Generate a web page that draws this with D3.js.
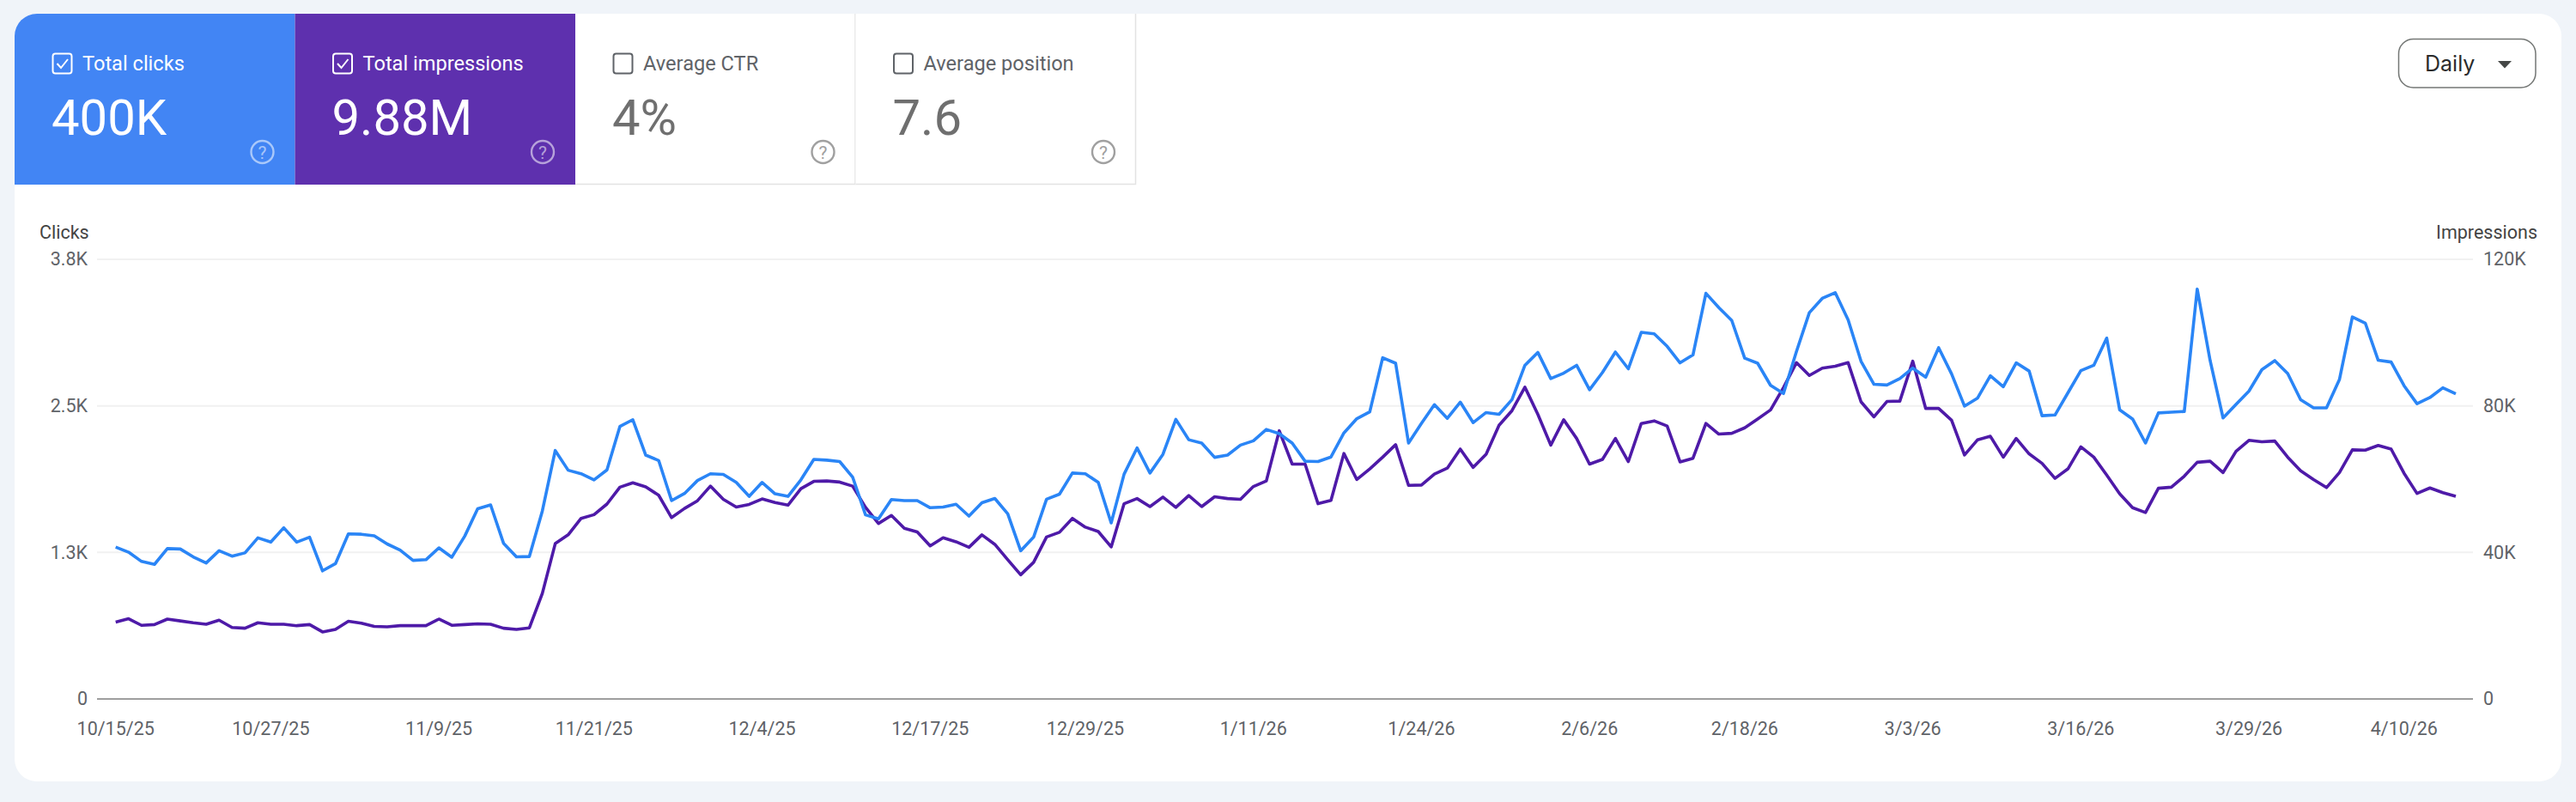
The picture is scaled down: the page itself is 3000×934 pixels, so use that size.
<!DOCTYPE html>
<html>
  <head>
    <title>Search performance</title>
    <meta charset="utf-8" />
    <style>
      html, body { margin: 0; padding: 0; background: #f0f4f9; }
      svg { display: block; font-family: Roboto, sans-serif; }
    </style>
  </head>
  <body>
    <div id="chart"></div>
    <script src="https://d3js.org/d3.v7.min.js"></script>
    <script type="text/javascript">
        // one value per day, 10/15/25 to 4/14/26
        const clicks = [
            1295, 1252, 1173, 1148, 1283, 1279, 1212, 1160, 1264, 1218, 1246, 1374, 1338, 1460, 1338, 1380,
            1093, 1154, 1408, 1405, 1392, 1322, 1270, 1182, 1188, 1289, 1209, 1389, 1622, 1655, 1328, 1212,
            1215, 1603, 2119, 1951, 1921, 1869, 1954, 2324, 2382, 2080, 2034, 1692, 1753, 1863, 1921, 1915,
            1847, 1728, 1847, 1750, 1728, 1869, 2043, 2037, 2025, 1893, 1570, 1536, 1701, 1692, 1692, 1631,
            1637, 1661, 1560, 1673, 1710, 1579, 1264, 1380, 1704, 1747, 1927, 1921, 1847, 1502, 1918, 2141,
            1927, 2086, 2385, 2211, 2183, 2061, 2080, 2165, 2202, 2299, 2263, 2183, 2028, 2025, 2064, 2269,
            2391, 2449, 2910, 2864, 2183, 2351, 2510, 2394, 2532, 2357, 2443, 2428, 2553, 2846, 2956, 2733,
            2779, 2846, 2638, 2785, 2959, 2816, 3127, 3115, 3008, 2867, 2935, 3460, 3338, 3228, 2907, 2864,
            2675, 2605, 2962, 3295, 3417, 3466, 3234, 2880, 2684, 2678, 2733, 2822, 2745, 2996, 2773, 2498,
            2565, 2757, 2663, 2867, 2797, 2416, 2422, 2611, 2800, 2846, 3078, 2467, 2388, 2183, 2440, 2446,
            2452, 3496, 2886, 2397, 2513, 2626, 2809, 2886, 2776, 2553, 2483, 2483, 2724, 3258, 3206, 2889,
            2874, 2672, 2519, 2571, 2654, 2602
        ];
        const impressions = [
            21000, 21900, 20100, 20300, 21800, 21300, 20800, 20400, 21500, 19500, 19300, 20800, 20400, 20400, 20000, 20300,
            18300, 19000, 21200, 20700, 19800, 19700, 20000, 20000, 20000, 21800, 20100, 20300, 20500, 20400, 19300, 19000,
            19400, 28800, 42400, 44800, 49300, 50300, 53200, 57800, 59000, 57900, 55600, 49500, 52000, 54100, 58100, 54500,
            52400, 53100, 54600, 53600, 52900, 57400, 59400, 59500, 59200, 58100, 52300, 47900, 50100, 46600, 45600, 41800,
            44000, 42900, 41400, 44800, 42200, 38000, 33900, 37300, 44200, 45500, 49300, 46900, 45700, 41500, 53300, 54700,
            52500, 55100, 52300, 55500, 52500, 55200, 54700, 54500, 58000, 59500, 73200, 64100, 64100, 53300, 54200, 67000,
            59900, 62800, 66000, 69400, 58300, 58400, 61400, 63000, 68200, 63200, 66800, 74700, 78700, 85100, 77700, 69300,
            76200, 71100, 64100, 65400, 71100, 64800, 75200, 75900, 74500, 64700, 65700, 75200, 72300, 72500, 74000, 76400,
            78900, 85000, 91800, 88300, 90300, 90800, 91800, 81100, 77000, 81200, 81300, 92200, 79300, 79300, 76100, 66600,
            70700, 71700, 66000, 71100, 66900, 64300, 60200, 62800, 68800, 66000, 61100, 56000, 52200, 50900, 57500, 57800,
            60800, 64600, 64900, 61800, 67600, 70600, 70200, 70400, 66000, 62300, 59900, 57700, 61800, 68000, 67900, 69200,
            68200, 61600, 56100, 57600, 56300, 55300
        ];

        const xTickLabels = ["10/15/25", "10/27/25", "11/9/25", "11/21/25", "12/4/25", "12/17/25", "12/29/25", "1/11/26",
            "1/24/26", "2/6/26", "2/18/26", "3/3/26", "3/16/26", "3/29/26", "4/10/26"];
        const clickTicks = [0, 1250, 2500, 3750];
        const clickTickLabels = ["0", "1.3K", "2.5K", "3.8K"];
        const impressionTicks = [0, 40000, 80000, 120000];
        const impressionTickLabels = ["0", "40K", "80K", "120K"];

        const tileNames = ["Total clicks", "Total impressions", "Average CTR", "Average position"];
        const tileValues = ["400K", "9.88M", "4%", "7.6"];
        const tileOn = [true, true, false, false];
        const tileFills = ["#4285f4", "#5e30ae", "#fff", "#fff"];

        const width = 3000;
        const height = 934;
        const card = {left: 17, top: 16, right: 2983, bottom: 910};
        const plot = {top: 302, bottom: 814, left: 113, right: 2880};
        const tileW = 326.5;
        const tileH = 199;

        const parseDate = d3.utcParse("%m/%d/%y");
        const days = d3.utcDay.range(parseDate("10/15/25"), parseDate("4/15/26"));

        const x = d3.scaleUtc()
            .domain([days[0], days[days.length - 1]])
            .range([134.7, 2860]);
        const yClicks = d3.scaleLinear()
            .domain([0, 3750])
            .range([plot.bottom, plot.top]);
        const yImpressions = d3.scaleLinear()
            .domain([0, 120000])
            .range([plot.bottom, plot.top]);

        const svg = d3.select("#chart")
            .append("svg")
            .attr("width", width)
            .attr("height", height);

        svg.append("clipPath")
            .attr("id", "card-clip")
            .append("rect")
            .attr("x", card.left)
            .attr("y", card.top)
            .attr("width", card.right - card.left)
            .attr("height", card.bottom - card.top)
            .attr("rx", 26);

        const body = svg.append("g").attr("clip-path", "url(#card-clip)");
        body.append("rect")
            .attr("x", card.left)
            .attr("y", card.top)
            .attr("width", card.right - card.left)
            .attr("height", card.bottom - card.top)
            .attr("fill", "#fff");

        // metric tiles
        const tile = body.selectAll("g.tile")
            .data(tileNames)
            .enter().append("g")
            .attr("class", "tile")
            .attr("transform", (d, i) => `translate(${card.left + i * tileW},${card.top})`);

        tile.append("rect")
            .attr("width", tileW)
            .attr("height", tileH)
            .attr("fill", (d, i) => tileFills[i]);

        tile.filter((d, i) => !tileOn[i]).append("path")
            .attr("d", `M${tileW - 0.5},0V${tileH - 0.5}H0`)
            .attr("fill", "none")
            .attr("stroke", "#e3e3e3")
            .attr("stroke-width", 1.5);

        tile.append("rect")
            .attr("x", 44.5)
            .attr("y", 46.5)
            .attr("width", 22)
            .attr("height", 23)
            .attr("rx", 3)
            .attr("fill", "none")
            .attr("stroke", (d, i) => tileOn[i] ? "#fff" : "#5f6368")
            .attr("stroke-width", 2);

        tile.filter((d, i) => tileOn[i]).append("path")
            .attr("d", "M49.5,58l4.5,5l8,-10")
            .attr("fill", "none")
            .attr("stroke", "#fff")
            .attr("stroke-width", 2);

        tile.append("text")
            .attr("x", 79)
            .attr("y", 65.5)
            .attr("font-size", 23.6)
            .attr("fill", (d, i) => tileOn[i] ? "#fff" : "#5f6368")
            .text(d => d);

        tile.append("text")
            .attr("x", 43)
            .attr("y", 141)
            .attr("font-size", 58)
            .attr("fill", (d, i) => tileOn[i] ? "#fff" : "#6f6f6f")
            .text((d, i) => tileValues[i]);

        tile.append("circle")
            .attr("cx", 288.5)
            .attr("cy", 161)
            .attr("r", 13)
            .attr("fill", "none")
            .attr("stroke", (d, i) => tileOn[i] ? "rgba(255,255,255,0.55)" : "#a0a0a0")
            .attr("stroke-width", 2.4);

        tile.append("text")
            .attr("x", 288.5)
            .attr("y", 168.5)
            .attr("text-anchor", "middle")
            .attr("font-size", 21)
            .attr("fill", (d, i) => tileOn[i] ? "rgba(255,255,255,0.55)" : "#a0a0a0")
            .text("?");

        // granularity button
        const button = svg.append("g");
        button.append("rect")
            .attr("x", 2793.5)
            .attr("y", 45.5)
            .attr("width", 159.5)
            .attr("height", 56.5)
            .attr("rx", 17)
            .attr("fill", "#fff")
            .attr("stroke", "#747775")
            .attr("stroke-width", 1.5);
        button.append("text")
            .attr("x", 2824)
            .attr("y", 82.5)
            .attr("font-family", "Inter, Roboto, sans-serif")
            .attr("font-size", 25)
            .attr("fill", "#2b2b2b")
            .text("Daily");
        button.append("path")
            .attr("d", "M2909,71h16l-8,8.5z")
            .attr("fill", "#444746");

        // axes
        const formatTick = d3.utcFormat("%-m/%-d/%y");
        const xAxis = d3.axisBottom(x)
            .tickValues(xTickLabels.map(parseDate))
            .tickFormat(formatTick)
            .tickSize(0)
            .tickPadding(0);
        const leftAxis = d3.axisLeft(yClicks)
            .tickValues(clickTicks)
            .tickFormat((d, i) => clickTickLabels[i])
            .tickSize(0)
            .tickPadding(0);
        const rightAxis = d3.axisRight(yImpressions)
            .tickValues(impressionTicks)
            .tickFormat((d, i) => impressionTickLabels[i])
            .tickSize(0)
            .tickPadding(0);

        const styleAxis = g => g
            .call(g => g.select(".domain").remove())
            .call(g => g.selectAll("text")
                .attr("font-family", "Roboto, sans-serif")
                .attr("font-size", 21.5)
                .attr("fill", "#5f6368"));

        svg.append("g")
            .selectAll("line")
            .data(clickTicks)
            .enter().append("line")
            .attr("x1", plot.left)
            .attr("x2", plot.right)
            .attr("y1", d => yClicks(d))
            .attr("y2", d => yClicks(d))
            .attr("stroke", d => d === 0 ? "#9e9e9e" : "#f1f1f1")
            .attr("stroke-width", 2);

        svg.append("g")
            .attr("transform", `translate(-0.5,${plot.bottom + 27})`)
            .call(xAxis)
            .call(styleAxis);
        svg.append("g")
            .attr("transform", "translate(102,0)")
            .call(leftAxis)
            .call(styleAxis);
        svg.append("g")
            .attr("transform", "translate(2892,0)")
            .call(rightAxis)
            .call(styleAxis);

        svg.append("text")
            .attr("x", 46)
            .attr("y", 278)
            .attr("font-size", 21.5)
            .attr("fill", "#444")
            .text("Clicks");
        svg.append("text")
            .attr("x", 2955)
            .attr("y", 278)
            .attr("text-anchor", "end")
            .attr("font-size", 21.5)
            .attr("fill", "#444")
            .text("Impressions");

        // lines
        const clicksLine = d3.line()
            .x((d, i) => x(days[i]))
            .y(d => yClicks(d));
        const impressionsLine = d3.line()
            .x((d, i) => x(days[i]))
            .y(d => yImpressions(d));

        svg.append("path")
            .datum(impressions)
            .attr("fill", "none")
            .attr("stroke", "#4e1aa8")
            .attr("stroke-width", 3.6)
            .attr("stroke-linejoin", "round")
            .attr("d", impressionsLine);
        svg.append("path")
            .datum(clicks)
            .attr("fill", "none")
            .attr("stroke", "#2a85f6")
            .attr("stroke-width", 3.6)
            .attr("stroke-linejoin", "round")
            .attr("d", clicksLine);
    </script>
  </body>
</html>
